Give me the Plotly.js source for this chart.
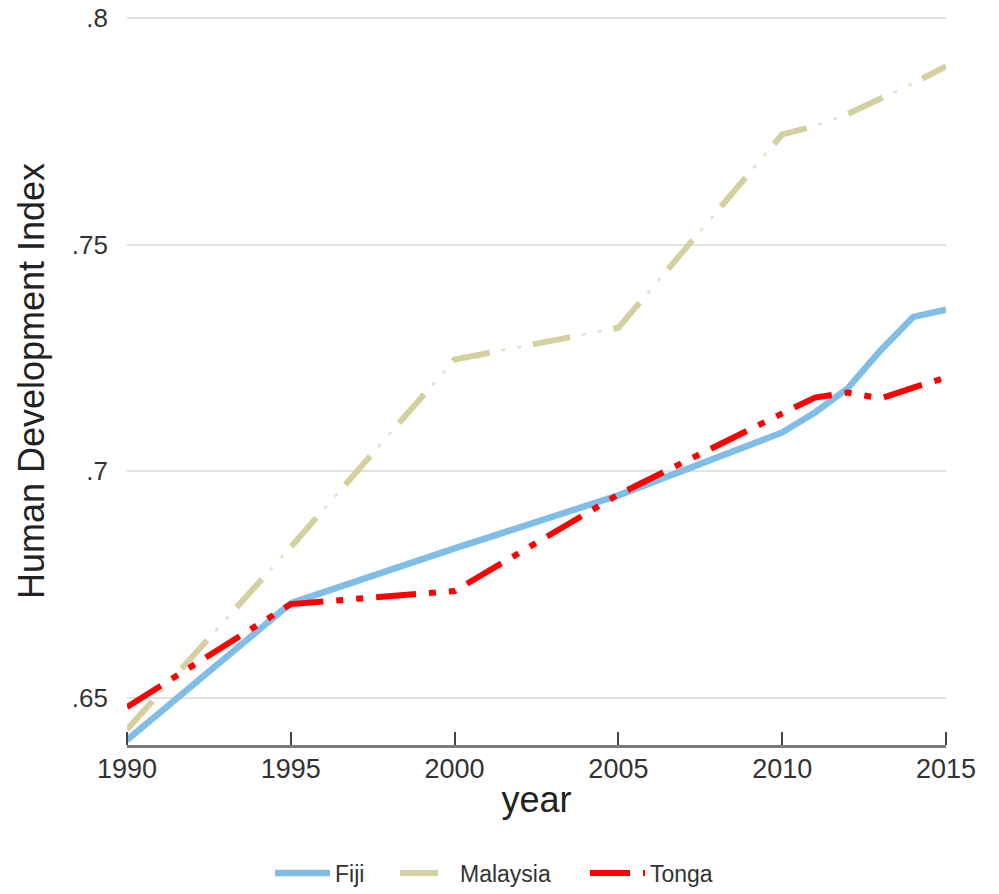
<!DOCTYPE html>
<html>
<head>
<meta charset="utf-8">
<script src="https://cdn.plot.ly/plotly-3.0.1.min.js"></script>
<style>html,body{margin:0;padding:0;background:#fff;}#chart{width:999px;height:894px;}</style>
</head>
<body>
<div id="chart"></div>
<script>
var years = [1990, 1995, 2000, 2005, 2010, 2011, 2012, 2013, 2014, 2015];
var fiji = [0.6407, 0.6709, 0.6830, 0.6947, 0.7086, 0.7130, 0.7183, 0.7267, 0.7341, 0.7357];
var malaysia = [0.6430, 0.6833, 0.7247, 0.7317, 0.7744, 0.7762, 0.7789, 0.7822, 0.7857, 0.7894];
var tonga = [0.6480, 0.6707, 0.6736, 0.6949, 0.7128, 0.7163, 0.7174, 0.7161, 0.7185, 0.7207];
var xTicks = [1990, 1995, 2000, 2005, 2010, 2015];
var yTicks = [0.65, 0.7, 0.75, 0.8];
var yTickLabels = ['.65', '.7', '.75', '.8'];

var legFont = {size: 23, color: '#333333', family: 'Liberation Sans, Arial, sans-serif'};
var traces = [
  {x: years, y: fiji, xaxis: 'x2', mode: 'none', type: 'scatter', showlegend: false, hoverinfo: 'skip'},
  {x: years, y: fiji, name: 'Fiji', mode: 'lines', type: 'scatter', legend: 'legend',
   line: {color: '#80bde8', width: 6.5}},
  {x: years, y: malaysia, name: 'Malaysia', mode: 'lines', type: 'scatter', legend: 'legend2',
   line: {color: '#d5d09f', width: 6, dash: '38px,44px'}},
  {x: years, y: malaysia, name: 'Malaysia', mode: 'lines', type: 'scatter', showlegend: false,
   line: {color: '#e4e0c2', width: 2.5, dash: '0px,50px,4px,12px,4px,12px'}},
  {x: years, y: tonga, name: 'Tonga', mode: 'lines', type: 'scatter', legend: 'legend3',
   line: {color: '#ff0000', width: 6, dash: '40px,13px,7px,13px,7px,13px'}}
];

function leg(px) {
  return {orientation: 'h', x: (px - 127) / 819, xanchor: 'left', y: -0.1758, yanchor: 'middle',
          font: legFont, itemwidth: 55, bgcolor: 'rgba(0,0,0,0)'};
}

var layout = {
  width: 999, height: 894,
  margin: {l: 127, r: 53, t: 17, b: 149, autoexpand: false},
  paper_bgcolor: '#ffffff', plot_bgcolor: '#ffffff',
  font: {family: 'Liberation Sans, Arial, sans-serif', color: '#333333'},
  showlegend: true,
  legend: leg(270), legend2: leg(395), legend3: leg(585),
  xaxis: {
    range: [1990, 2015], tickvals: xTicks, ticktext: xTicks.map(String),
    showgrid: false, zeroline: false,
    showline: true, linecolor: '#7a7a7a', linewidth: 2.5,
    ticks: '',
    ticklabelstandoff: -2,
    tickfont: {size: 27, color: '#333333'},
    title: {text: 'year', font: {size: 36, color: '#222222'}, standoff: 4}
  },
  xaxis2: {
    overlaying: 'x', side: 'top', anchor: 'free', position: 0,
    range: [1990, 2015], tickvals: xTicks, showticklabels: false,
    showgrid: false, zeroline: false, showline: false,
    ticks: 'outside', ticklen: 13, tickwidth: 2, tickcolor: '#444444'
  },
  yaxis: {
    range: [0.6396, 0.8003], tickvals: yTicks, ticktext: yTickLabels,
    showgrid: true, gridcolor: '#e2e2e2', gridwidth: 2,
    zeroline: false, showline: false, ticks: '',
    ticklabelstandoff: 18,
    tickfont: {size: 26, color: '#333333'},
    title: {text: 'Human Development Index', font: {size: 36, color: '#222222'}, standoff: 16}
  }
};

Plotly.newPlot('chart', traces, layout, {staticPlot: true, displayModeBar: false});
</script>
</body>
</html>
